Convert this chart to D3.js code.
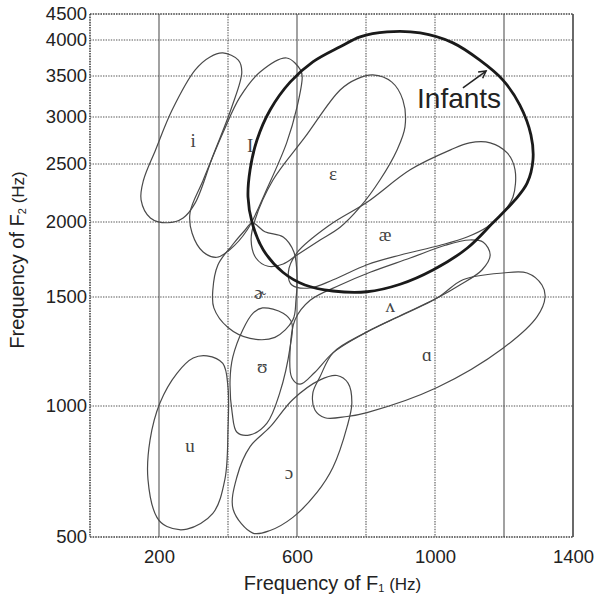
<!DOCTYPE html>
<html>
<head>
<meta charset="utf-8">
<script src="https://cdn.jsdelivr.net/npm/d3@7"></script>
<style>
  html, body { margin: 0; padding: 0; background: #fff; }
  svg { display: block; }
</style>
</head>
<body>
<svg id="chart" width="602" height="603"></svg>
<script>
// ---- data (F1 Hz, F2 Hz) ----
const F1_TICKS = [200, 600, 1000, 1400];
const F1_GRID = [200, 400, 600, 800, 1000, 1200];
const F1_SOLID = [200, 600, 1200];
const F2_TICKS = [500, 1000, 1500, 2000, 2500, 3000, 3500, 4000, 4500];

const vowel_i = [[385,3820],[430,3720],[440,3555],[410,3110],[355,2575],[305,2165],[270,2035],[225,1995],[175,2035],[148,2190],[155,2360],[190,2650],[238,3085],[305,3585],[348,3765]];
const vowel_I = [[570,3750],[610,3585],[615,3490],[600,3120],[570,2725],[515,2300],[455,1945],[405,1815],[368,1765],[328,1800],[296,1925],[290,2080],[328,2360],[385,2830],[435,3245],[493,3555]];
const vowel_eps = [[820,3515],[875,3425],[907,3205],[913,2895],[890,2650],[840,2360],[783,2130],[725,1965],[667,1880],[600,1780],[560,1720],[516,1705],[481,1760],[467,1880],[478,2015],[530,2360],[623,2785],[725,3330],[774,3465]];
const vowel_ae = [[575,1665],[600,1795],[695,1980],[803,2170],[928,2450],[1045,2650],[1100,2725],[1160,2725],[1210,2615],[1232,2450],[1226,2215],[1197,2080],[1150,1965],[1093,1900],[1015,1845],[900,1780],[803,1715],[705,1615],[638,1560],[585,1580]];
const vowel_er = [[470,1995],[507,1935],[560,1900],[591,1800],[600,1645],[597,1485],[588,1395],[536,1315],[464,1310],[400,1360],[359,1450],[356,1545],[371,1715],[412,1845],[449,1945]];
const vowel_wedge = [[585,1130],[580,1255],[594,1395],[638,1485],[725,1580],[812,1665],[928,1760],[1030,1845],[1100,1880],[1140,1865],[1160,1780],[1136,1680],[1072,1580],[1006,1495],[900,1415],[803,1340],[705,1245],[652,1155],[609,1100]];
const vowel_a = [[1006,1495],[1081,1615],[1197,1660],[1267,1660],[1310,1580],[1319,1500],[1296,1410],[1197,1265],[1006,1085],[803,975],[745,960],[681,955],[652,985],[646,1060],[667,1135],[705,1245],[803,1340]];
const vowel_U = [[500,1450],[560,1425],[585,1380],[580,1270],[550,1060],[513,935],[464,890],[426,900],[412,975],[406,1120],[414,1225],[443,1350],[472,1425]];
const vowel_u = [[339,1230],[385,1195],[400,1085],[400,910],[391,720],[356,590],[281,530],[223,540],[194,575],[168,720],[174,870],[203,1015],[252,1150],[299,1220]];
const vowel_open_o = [[472,515],[415,605],[426,730],[464,845],[522,920],[588,1030],[667,1120],[716,1140],[748,1105],[759,1015],[745,920],[704,765],[658,670],[588,575],[522,525]];
const infants = [[861,4155],[957,4135],[1052,3960],[1130,3720],[1197,3450],[1246,3145],[1278,2810],[1284,2545],[1267,2335],[1232,2190],[1168,1995],[1093,1825],[994,1680],[899,1585],[803,1535],[704,1540],[623,1580],[559,1665],[502,1815],[470,1995],[458,2215],[464,2450],[484,2755],[522,3085],[580,3425],[646,3695],[725,3905],[783,4060]];

const vowelShapes = [vowel_i, vowel_I, vowel_eps, vowel_ae, vowel_er, vowel_wedge, vowel_a, vowel_U, vowel_u, vowel_open_o];
const vowelLabels = ["i", "I", "ε", "æ", "ɚ", "ʌ", "ɑ", "ʊ", "u", "ɔ"];
const labelF1 = [299, 464, 704, 855, 493, 870, 977, 499, 290, 577];
const labelF2 = [2755, 2702, 2422, 1920, 1533, 1463, 1234, 1179, 851, 748];

const infantsLabel = "Infants";
const infantsLabelPos = [948, 3110];
const arrowFrom = [1081, 3354];
const arrowTo = [1148, 3569];

// ---- layout ----
const svg = d3.select("#chart");
const x = d3.scaleLinear().domain([0, 1400]).range([90, 573]);
const y = d3.scaleLinear().domain(F2_TICKS).range([537, 406, 297, 222, 164, 117, 76, 40, 14]);

const x0 = x(0), x1 = x(1400), yB = y(500), yT = y(4500);

// grid
const grid = svg.append("g");
grid.selectAll("line.h").data(F2_TICKS.slice(1, -1)).join("line")
  .attr("x1", x0).attr("x2", x1)
  .attr("y1", d => y(d)).attr("y2", d => y(d))
  .attr("stroke", "#555").attr("stroke-width", 1.2).attr("stroke-dasharray", "1.4,1.2");
grid.selectAll("line.v").data(F1_GRID).join("line")
  .attr("x1", d => x(d)).attr("x2", d => x(d))
  .attr("y1", yT).attr("y2", yB)
  .attr("stroke", d => F1_SOLID.includes(d) ? "#555" : "#555")
  .attr("stroke-width", 1.1)
  .attr("stroke-dasharray", d => F1_SOLID.includes(d) ? null : "1.4,1.2");
// frame
svg.append("g").selectAll("line").data([
  [x0, yT, x1, yT, true], [x0, yB, x1, yB, true], [x0, yT, x0, yB, true], [x1, yT, x1, yB, false]
]).join("line")
  .attr("x1", d => d[0]).attr("y1", d => d[1]).attr("x2", d => d[2]).attr("y2", d => d[3])
  .attr("stroke", "#444").attr("stroke-width", 1.6)
  .attr("stroke-dasharray", d => d[4] ? "1.6,1" : null);

// axes
const yAxis = d3.axisLeft(y).tickValues(F2_TICKS).tickSize(0).tickPadding(3).tickFormat(d3.format("d"));
const gy = svg.append("g").attr("transform", `translate(${x0},0)`).call(yAxis);
gy.select(".domain").remove();
gy.selectAll("text").attr("font-family", "'Liberation Sans', Arial, sans-serif").attr("font-size", 18.5).attr("fill", "#222");

const xAxis = d3.axisBottom(x).tickValues(F1_TICKS).tickSize(0).tickPadding(13).tickFormat(d3.format("d"));
const gx = svg.append("g").attr("transform", `translate(0,${yB})`).call(xAxis);
gx.select(".domain").remove();
gx.selectAll("text").attr("font-family", "'Liberation Sans', Arial, sans-serif").attr("font-size", 18.5).attr("fill", "#222");

// axis titles
const xt = svg.append("text").attr("x", (x0 + x1) / 2 + 1).attr("y", 590)
  .attr("text-anchor", "middle").attr("font-family", "'Liberation Sans', Arial, sans-serif").attr("fill", "#222");
xt.append("tspan").attr("font-size", 20).text("Frequency of F");
xt.append("tspan").attr("font-size", 11).attr("dy", 2).text("1");
xt.append("tspan").attr("font-size", 17).attr("dy", -2).text(" (Hz)");

const ytt = svg.append("text").attr("transform", "translate(24,260) rotate(-90)")
  .attr("text-anchor", "middle").attr("font-family", "'Liberation Sans', Arial, sans-serif").attr("fill", "#222");
ytt.append("tspan").attr("font-size", 20).text("Frequency of F");
ytt.append("tspan").attr("font-size", 11).attr("dy", 2).text("2");
ytt.append("tspan").attr("font-size", 17).attr("dy", -2).text(" (Hz)");

// vowel regions
const line = d3.line().x(d => x(d[0])).y(d => y(d[1])).curve(d3.curveCatmullRomClosed.alpha(0.5));
svg.append("g").selectAll("path").data(vowelShapes).join("path")
  .attr("d", line).attr("fill", "none").attr("stroke", "#4a4a4a").attr("stroke-width", 1.2);

// infants region
svg.append("path").datum(infants).attr("d", line)
  .attr("fill", "none").attr("stroke", "#1a1a1a").attr("stroke-width", 2.8);

// vowel labels
svg.append("g").selectAll("text").data(vowelLabels).join("text")
  .attr("x", (d, i) => x(labelF1[i])).attr("y", (d, i) => y(labelF2[i]))
  .attr("text-anchor", "middle").attr("dominant-baseline", "central")
  .attr("font-family", "'Liberation Serif', 'DejaVu Serif', 'Times New Roman', serif")
  .attr("font-size", 19).attr("fill", "#444")
  .text(d => d);

// infants label + arrow
svg.append("text").attr("x", x(infantsLabelPos[0])).attr("y", y(infantsLabelPos[1]))
  .attr("font-family", "'Liberation Sans', Arial, sans-serif").attr("font-size", 28).attr("fill", "#222")
  .text(infantsLabel);
const ax1 = x(arrowFrom[0]), ay1 = y(arrowFrom[1]), ax2 = x(arrowTo[0]), ay2 = y(arrowTo[1]);
svg.append("line").attr("x1", ax1).attr("y1", ay1).attr("x2", ax2).attr("y2", ay2)
  .attr("stroke", "#222").attr("stroke-width", 1.5);
const ang = Math.atan2(ay2 - ay1, ax2 - ax1);
const hl = 8, hw = 0.5;
svg.append("path")
  .attr("d", `M${ax2 - hl * Math.cos(ang - hw)},${ay2 - hl * Math.sin(ang - hw)} L${ax2},${ay2} L${ax2 - hl * Math.cos(ang + hw)},${ay2 - hl * Math.sin(ang + hw)}`)
  .attr("fill", "none").attr("stroke", "#222").attr("stroke-width", 1.5);
</script>
</body>
</html>
